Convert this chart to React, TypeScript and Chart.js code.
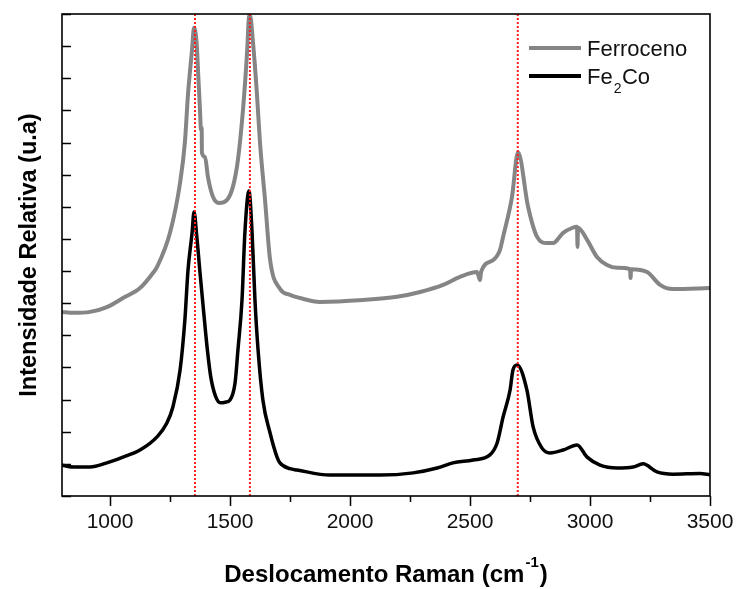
import React, { useEffect, useRef } from 'react';
import { Chart, registerables } from 'chart.js';
Chart.register(...registerables);

// Ferroceno (gray) spectrum
const ferrocenoX = [800, 846, 917, 987, 1054, 1125, 1179, 1196, 1250, 1292, 1312, 1325, 1342, 1350, 1361, 1368, 1375, 1379, 1382, 1383, 1396, 1408, 1429, 1454, 1487, 1512, 1533, 1554, 1571, 1579, 1583, 1596, 1612, 1625, 1646, 1667, 1708, 1750, 1792, 1875, 2054, 2196, 2292, 2388, 2458, 2529, 2542, 2546, 2596, 2625, 2638, 2675, 2700, 2742, 2779, 2821, 2846, 2888, 2925, 2946, 2948, 2950, 2988, 3029, 3071, 3113, 3167, 3169, 3171, 3238, 3292, 3346, 3500];
const ferrocenoY = [5.73, 5.70, 5.73, 5.88, 6.16, 6.47, 6.94, 7.13, 8.19, 9.75, 11.0, 12.5, 13.9, 14.57, 14.09, 13.05, 12.01, 11.39, 11.45, 10.68, 10.55, 9.93, 9.31, 9.12, 9.21, 9.62, 10.46, 12.01, 13.79, 14.9, 14.97, 14.1, 12.54, 10.99, 9.21, 7.35, 6.45, 6.26, 6.16, 6.04, 6.10, 6.20, 6.35, 6.57, 6.82, 6.97, 6.72, 6.97, 7.34, 7.66, 8.07, 9.31, 10.70, 9.00, 8.07, 7.87, 7.87, 8.19, 8.34, 8.38, 7.75, 8.35, 7.97, 7.44, 7.19, 7.10, 7.06, 6.78, 7.06, 6.97, 6.57, 6.44, 6.47];

// Fe2Co (black) spectrum
const fe2coX = [800, 850, 917, 987, 1054, 1125, 1196, 1237, 1262, 1292, 1312, 1325, 1342, 1350, 1362, 1375, 1390, 1405, 1420, 1440, 1460, 1480, 1500, 1521, 1533, 1550, 1562, 1579, 1592, 1604, 1617, 1637, 1667, 1696, 1708, 1750, 1779, 1917, 2125, 2263, 2363, 2429, 2513, 2583, 2613, 2638, 2667, 2679, 2696, 2737, 2763, 2800, 2833, 2888, 2946, 2988, 3042, 3113, 3179, 3221, 3279, 3346, 3458, 3500];
const fe2coY = [0.96, 0.90, 0.90, 1.03, 1.21, 1.43, 1.84, 2.27, 2.77, 3.92, 5.48, 7.03, 8.19, 8.84, 8.05, 6.95, 5.75, 4.6, 3.7, 3.1, 2.9, 2.92, 2.99, 3.52, 4.54, 6.10, 8.19, 9.49, 8.19, 6.10, 4.54, 2.99, 1.96, 1.21, 1.03, 0.85, 0.81, 0.65, 0.65, 0.72, 0.87, 1.03, 1.12, 1.28, 1.65, 2.46, 3.30, 3.92, 4.08, 3.30, 2.15, 1.49, 1.34, 1.43, 1.59, 1.21, 0.96, 0.87, 0.90, 1.00, 0.75, 0.68, 0.70, 0.66];

// Reference (red dotted) lines
const refLines = [1354, 1583, 2699];

// Axis ticks
const xTickValues = [1000, 1500, 2000, 2500, 3000, 3500];
const xMinorTickValues = [1250, 1750, 2250, 2750, 3250];
const yTickValues = [0, 1, 2, 3, 4, 5, 6, 7, 8, 9, 10, 11, 12, 13, 14, 15];

const X_MIN = 800;
const X_MAX = 3500;
const Y_MIN = 0;
const Y_MAX = 15;

const legendLabels = ['Ferroceno', 'Fe', '2', 'Co'];
const xTitle = ['Deslocamento Raman (cm', '-1', ')'];
const yTitle = 'Intensidade Relativa (u.a)';

const GRAY = '#858585';
const FONT = '"Liberation Sans", Arial, sans-serif';

export default function App() {
  const ref = useRef<HTMLCanvasElement>(null);

  useEffect(() => {
    if (!ref.current) return;
    const pts = (xs: number[], ys: number[]) => xs.map((x, i) => ({ x, y: ys[i] }));

    const decor = {
      id: 'decor',
      afterDraw(chart: any) {
        const { ctx, chartArea } = chart;
        const { left, right, top, bottom } = chartArea;
        const xs = chart.scales.x;
        const ys = chart.scales.y;
        ctx.save();
        // frame
        ctx.strokeStyle = '#000';
        ctx.lineWidth = 1.6;
        ctx.strokeRect(left, top, right - left, bottom - top);
        // y ticks (inward)
        ctx.lineWidth = 1.5;
        ctx.beginPath();
        yTickValues.forEach((v) => {
          const py = Math.round(ys.getPixelForValue(v)) + 0.5;
          ctx.moveTo(left, py);
          ctx.lineTo(left + 9, py);
        });
        // x ticks (outward)
        xTickValues.forEach((v) => {
          const px = Math.round(xs.getPixelForValue(v)) + 0.5;
          ctx.moveTo(px, bottom);
          ctx.lineTo(px, bottom + 10);
        });
        xMinorTickValues.forEach((v) => {
          const px = Math.round(xs.getPixelForValue(v)) + 0.5;
          ctx.moveTo(px, bottom);
          ctx.lineTo(px, bottom + 6);
        });
        ctx.stroke();
        // x tick labels
        ctx.fillStyle = '#111';
        ctx.font = `21px ${FONT}`;
        ctx.textAlign = 'center';
        ctx.textBaseline = 'alphabetic';
        xTickValues.forEach((v) => {
          ctx.fillText(String(v), xs.getPixelForValue(v), bottom + 32);
        });
        // x title
        ctx.fillStyle = '#000';
        ctx.textAlign = 'left';
        ctx.font = `bold 24px ${FONT}`;
        const w1 = ctx.measureText(xTitle[0]).width;
        const w3 = ctx.measureText(xTitle[2]).width;
        ctx.font = `bold 15px ${FONT}`;
        const w2 = ctx.measureText(xTitle[1]).width;
        const total = w1 + w2 + w3 + 2;
        let sx = (left + right) / 2 - total / 2;
        const base = bottom + 86;
        ctx.font = `bold 24px ${FONT}`;
        ctx.fillText(xTitle[0], sx, base);
        sx += w1 + 1;
        ctx.font = `bold 15px ${FONT}`;
        ctx.fillText(xTitle[1], sx, base - 15);
        sx += w2 + 1;
        ctx.font = `bold 24px ${FONT}`;
        ctx.fillText(xTitle[2], sx, base);
        // y title
        ctx.save();
        ctx.translate(36, (top + bottom) / 2);
        ctx.rotate(-Math.PI / 2);
        ctx.textAlign = 'center';
        ctx.font = `bold 23.5px ${FONT}`;
        ctx.fillText(yTitle, 0, 0);
        ctx.restore();
        // legend
        ctx.lineWidth = 4;
        ctx.lineCap = 'butt';
        ctx.strokeStyle = GRAY;
        ctx.beginPath();
        ctx.moveTo(529, 48);
        ctx.lineTo(581, 48);
        ctx.stroke();
        ctx.strokeStyle = '#000';
        ctx.beginPath();
        ctx.moveTo(529, 76);
        ctx.lineTo(581, 76);
        ctx.stroke();
        ctx.fillStyle = '#111';
        ctx.textAlign = 'left';
        ctx.font = `22px ${FONT}`;
        ctx.fillText(legendLabels[0], 587, 56);
        let lx = 587;
        ctx.fillText(legendLabels[1], lx, 84);
        lx += ctx.measureText(legendLabels[1]).width + 1;
        ctx.font = `14px ${FONT}`;
        ctx.fillText(legendLabels[2], lx, 93);
        lx += ctx.measureText(legendLabels[2]).width + 0.5;
        ctx.font = `22px ${FONT}`;
        ctx.fillText(legendLabels[3], lx, 84);
        ctx.restore();
      },
    };

    const refDatasets = refLines.map((v) => ({
      label: 'ref' + v,
      data: [{ x: v, y: Y_MIN }, { x: v, y: Y_MAX }],
      borderColor: 'rgb(255,30,30)',
      borderWidth: 2,
      borderDash: [2, 2],
      pointRadius: 0,
      tension: 0,
      order: 0,
    }));

    const chart = new Chart(ref.current, {
      type: 'line',
      data: {
        datasets: [
          ...refDatasets,
          {
            label: 'Fe2Co',
            data: pts(fe2coX, fe2coY),
            borderColor: '#000',
            borderWidth: 3.5,
            pointRadius: 0,
            cubicInterpolationMode: 'monotone',
            order: 1,
          },
          {
            label: 'Ferroceno',
            data: pts(ferrocenoX, ferrocenoY),
            borderColor: GRAY,
            borderWidth: 4,
            pointRadius: 0,
            cubicInterpolationMode: 'monotone',
            order: 2,
          },
        ] as any,
      },
      options: {
        animation: false,
        responsive: false,
        maintainAspectRatio: false,
        devicePixelRatio: 1,
        layout: { padding: { left: 62, top: 14, right: 30, bottom: 93 } },
        scales: {
          x: { type: 'linear', min: X_MIN, max: X_MAX, display: false },
          y: { type: 'linear', min: Y_MIN, max: Y_MAX, display: false },
        },
        plugins: { legend: { display: false }, tooltip: { enabled: false } },
        events: [],
      },
      plugins: [decor],
    });
    return () => chart.destroy();
  }, []);

  return (
    <div style={{ position: 'fixed', left: 0, top: 0, width: 740, height: 589, background: '#fff' }}>
      <canvas ref={ref} width={740} height={589} style={{ display: 'block', width: 740, height: 589 }} />
    </div>
  );
}
